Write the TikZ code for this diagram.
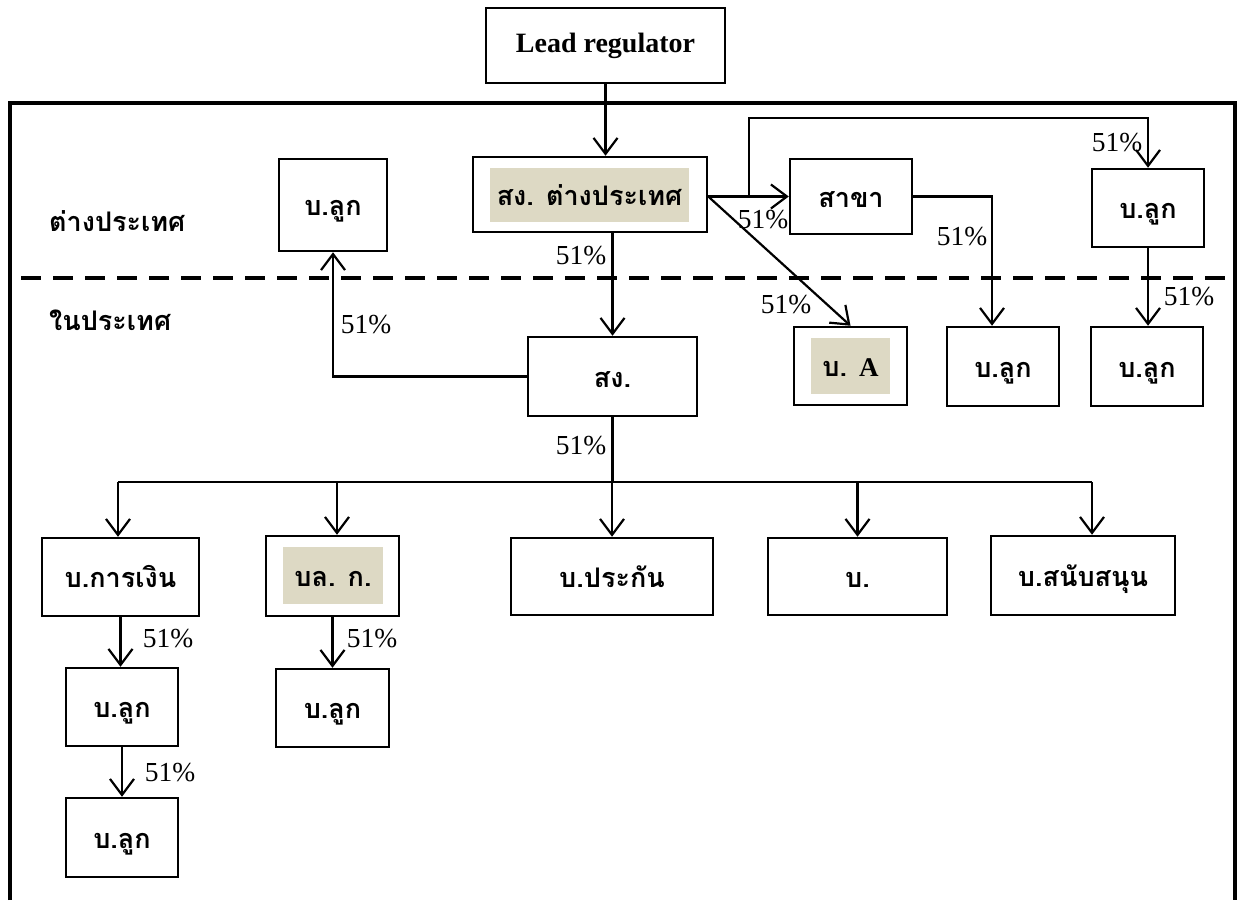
\documentclass[tikz,border=0pt]{standalone}
\usepackage{fontspec}
\setmainfont{Liberation Serif}
\newfontfamily\thai[Script=Thai]{Loma}
\usetikzlibrary{arrows.meta}
\definecolor{shadec}{RGB}{221,217,196}
\tikzset{
  thaitext/.style={text height=23pt, text depth=2pt, font=\thai\bfseries\fontsize{27}{31}\selectfont},
  box/.style={draw, line width=2.5pt, inner sep=0pt, thaitext},
  shadebox/.style={fill=shadec, inner sep=0pt, thaitext},
  conn/.style={line width=2.2pt},
  arr/.style={conn, -{Straight Barb[length=16pt,width=24pt,line width=2.2pt]}},
  pct/.style={inner sep=0pt, font=\fontsize{27.5}{31}\selectfont},
  side/.style={inner sep=0pt, anchor=west, thaitext}
}
\begin{document}
\begin{tikzpicture}[x=1pt,y=-1pt]
\useasboundingbox (0,0) rectangle (1239,900);
% frame
\draw[line width=3.5pt] (10,900) -- (10,103) -- (1235,103) -- (1235,900);
\draw[line width=4.5pt, dash pattern=on 20pt off 12pt] (21,278) -- (1227,278);
% side labels
\node[side] (fore) at (49,221) {ต่างประเทศ};
\node[side] (dome) at (49,320) {ในประเทศ};
% boxes
\node[draw, line width=2.5pt, inner sep=0pt, minimum width=239pt, minimum height=75pt, font=\bfseries\fontsize{28}{32}\selectfont] (lead) at (605.5,45.5) {Lead regulator};
\node[box, minimum width=234pt, minimum height=75pt] (sgf) at (590,194.5) {};
\node[shadebox, minimum width=199pt, minimum height=54pt] (sgft) at (589.5,195) {สง. ต่างประเทศ};
\node[box, minimum width=108pt, minimum height=92pt] (lukL) at (333,205) {บ.ลูก};
\node[box, minimum width=122pt, minimum height=75pt] (sakha) at (851,196.5) {สาขา};
\node[box, minimum width=112pt, minimum height=78pt] (lukTR) at (1148,208) {บ.ลูก};
\node[box, minimum width=169pt, minimum height=79pt] (sg) at (612.5,376.5) {สง.};
\node[box, minimum width=113pt, minimum height=78pt] (bA) at (850.5,366) {};
\node[shadebox, minimum width=79pt, minimum height=56pt] (bAt) at (850.5,366) {บ. {\rmfamily\bfseries A}};
\node[box, minimum width=112pt, minimum height=79pt] (lukM) at (1003,366.5) {บ.ลูก};
\node[box, minimum width=112pt, minimum height=79pt] (lukR) at (1147,366.5) {บ.ลูก};
\node[box, minimum width=157pt, minimum height=78pt] (fin) at (120.5,577) {บ.การเงิน};
\node[box, minimum width=133pt, minimum height=80pt] (bl) at (332.5,576) {};
\node[shadebox, minimum width=100pt, minimum height=57pt] (blt) at (333,575.5) {บล. ก.};
\node[box, minimum width=202pt, minimum height=77pt] (ins) at (612,576.5) {บ.ประกัน};
\node[box, minimum width=179pt, minimum height=77pt] (bb) at (857.5,576.5) {บ.};
\node[box, minimum width=184pt, minimum height=79pt] (sup) at (1083,575.5) {บ.สนับสนุน};
\node[box, minimum width=112pt, minimum height=78pt] (luk1) at (122,707) {บ.ลูก};
\node[box, minimum width=112pt, minimum height=79pt] (luk2) at (122,837.5) {บ.ลูก};
\node[box, minimum width=113pt, minimum height=78pt] (luk3) at (332.5,708) {บ.ลูก};
% helper coordinates
\coordinate (looptop) at (749,118);
\coordinate (busL) at (118,482);
\coordinate (busR) at (1092,482);
% connectors
\draw[arr] (lead.south) -- (lead.south |- sgf.north);
\draw[arr] (sg.north |- sgf.south) -- (sg.north);
\draw[arr] (sgf.east |- sakha.west) -- (sakha.west);
\draw[arr] (looptop |- sakha.west) -- (looptop) -| (lukTR.north);
\draw[arr] (sgf.east |- sakha.west) -- (bA.north);
\draw[arr] (sakha.east) -| ([xshift=-11pt]lukM.north);
\draw[arr] (lukTR.south) -- (lukTR.south |- lukR.north);
\draw[arr] (sg.west) -| (lukL.south);
\draw[conn] (sg.south) -- (sg.south |- busL);
\draw[conn] (busL) -- (busR);
\draw[arr] (busL) -- (busL |- fin.north);
\draw[arr] ([xshift=4.5pt]bl.north |- busL) -- ([xshift=4.5pt]bl.north);
\draw[arr] (ins.north |- busL) -- (ins.north);
\draw[arr] (bb.north |- busL) -- (bb.north);
\draw[arr] (busR) -- (busR |- sup.north);
\draw[arr] (fin.south) -- (fin.south |- luk1.north);
\draw[arr] (luk1.south) -- (luk2.north);
\draw[arr] (bl.south) -- (luk3.north);
% percentage labels
\node[pct] (p1) at (581,256) {51\%};
\node[pct] (p2) at (763,220) {51\%};
\node[pct] (p3) at (1117,143) {51\%};
\node[pct] (p4) at (786,305) {51\%};
\node[pct] (p5) at (962,237) {51\%};
\node[pct] (p6) at (1189,297) {51\%};
\node[pct] (p7) at (366,325) {51\%};
\node[pct] (p8) at (581,446) {51\%};
\node[pct] (p9) at (168,639) {51\%};
\node[pct] (p10) at (170,773) {51\%};
\node[pct] (p11) at (372,639) {51\%};
\end{tikzpicture}
\end{document}
